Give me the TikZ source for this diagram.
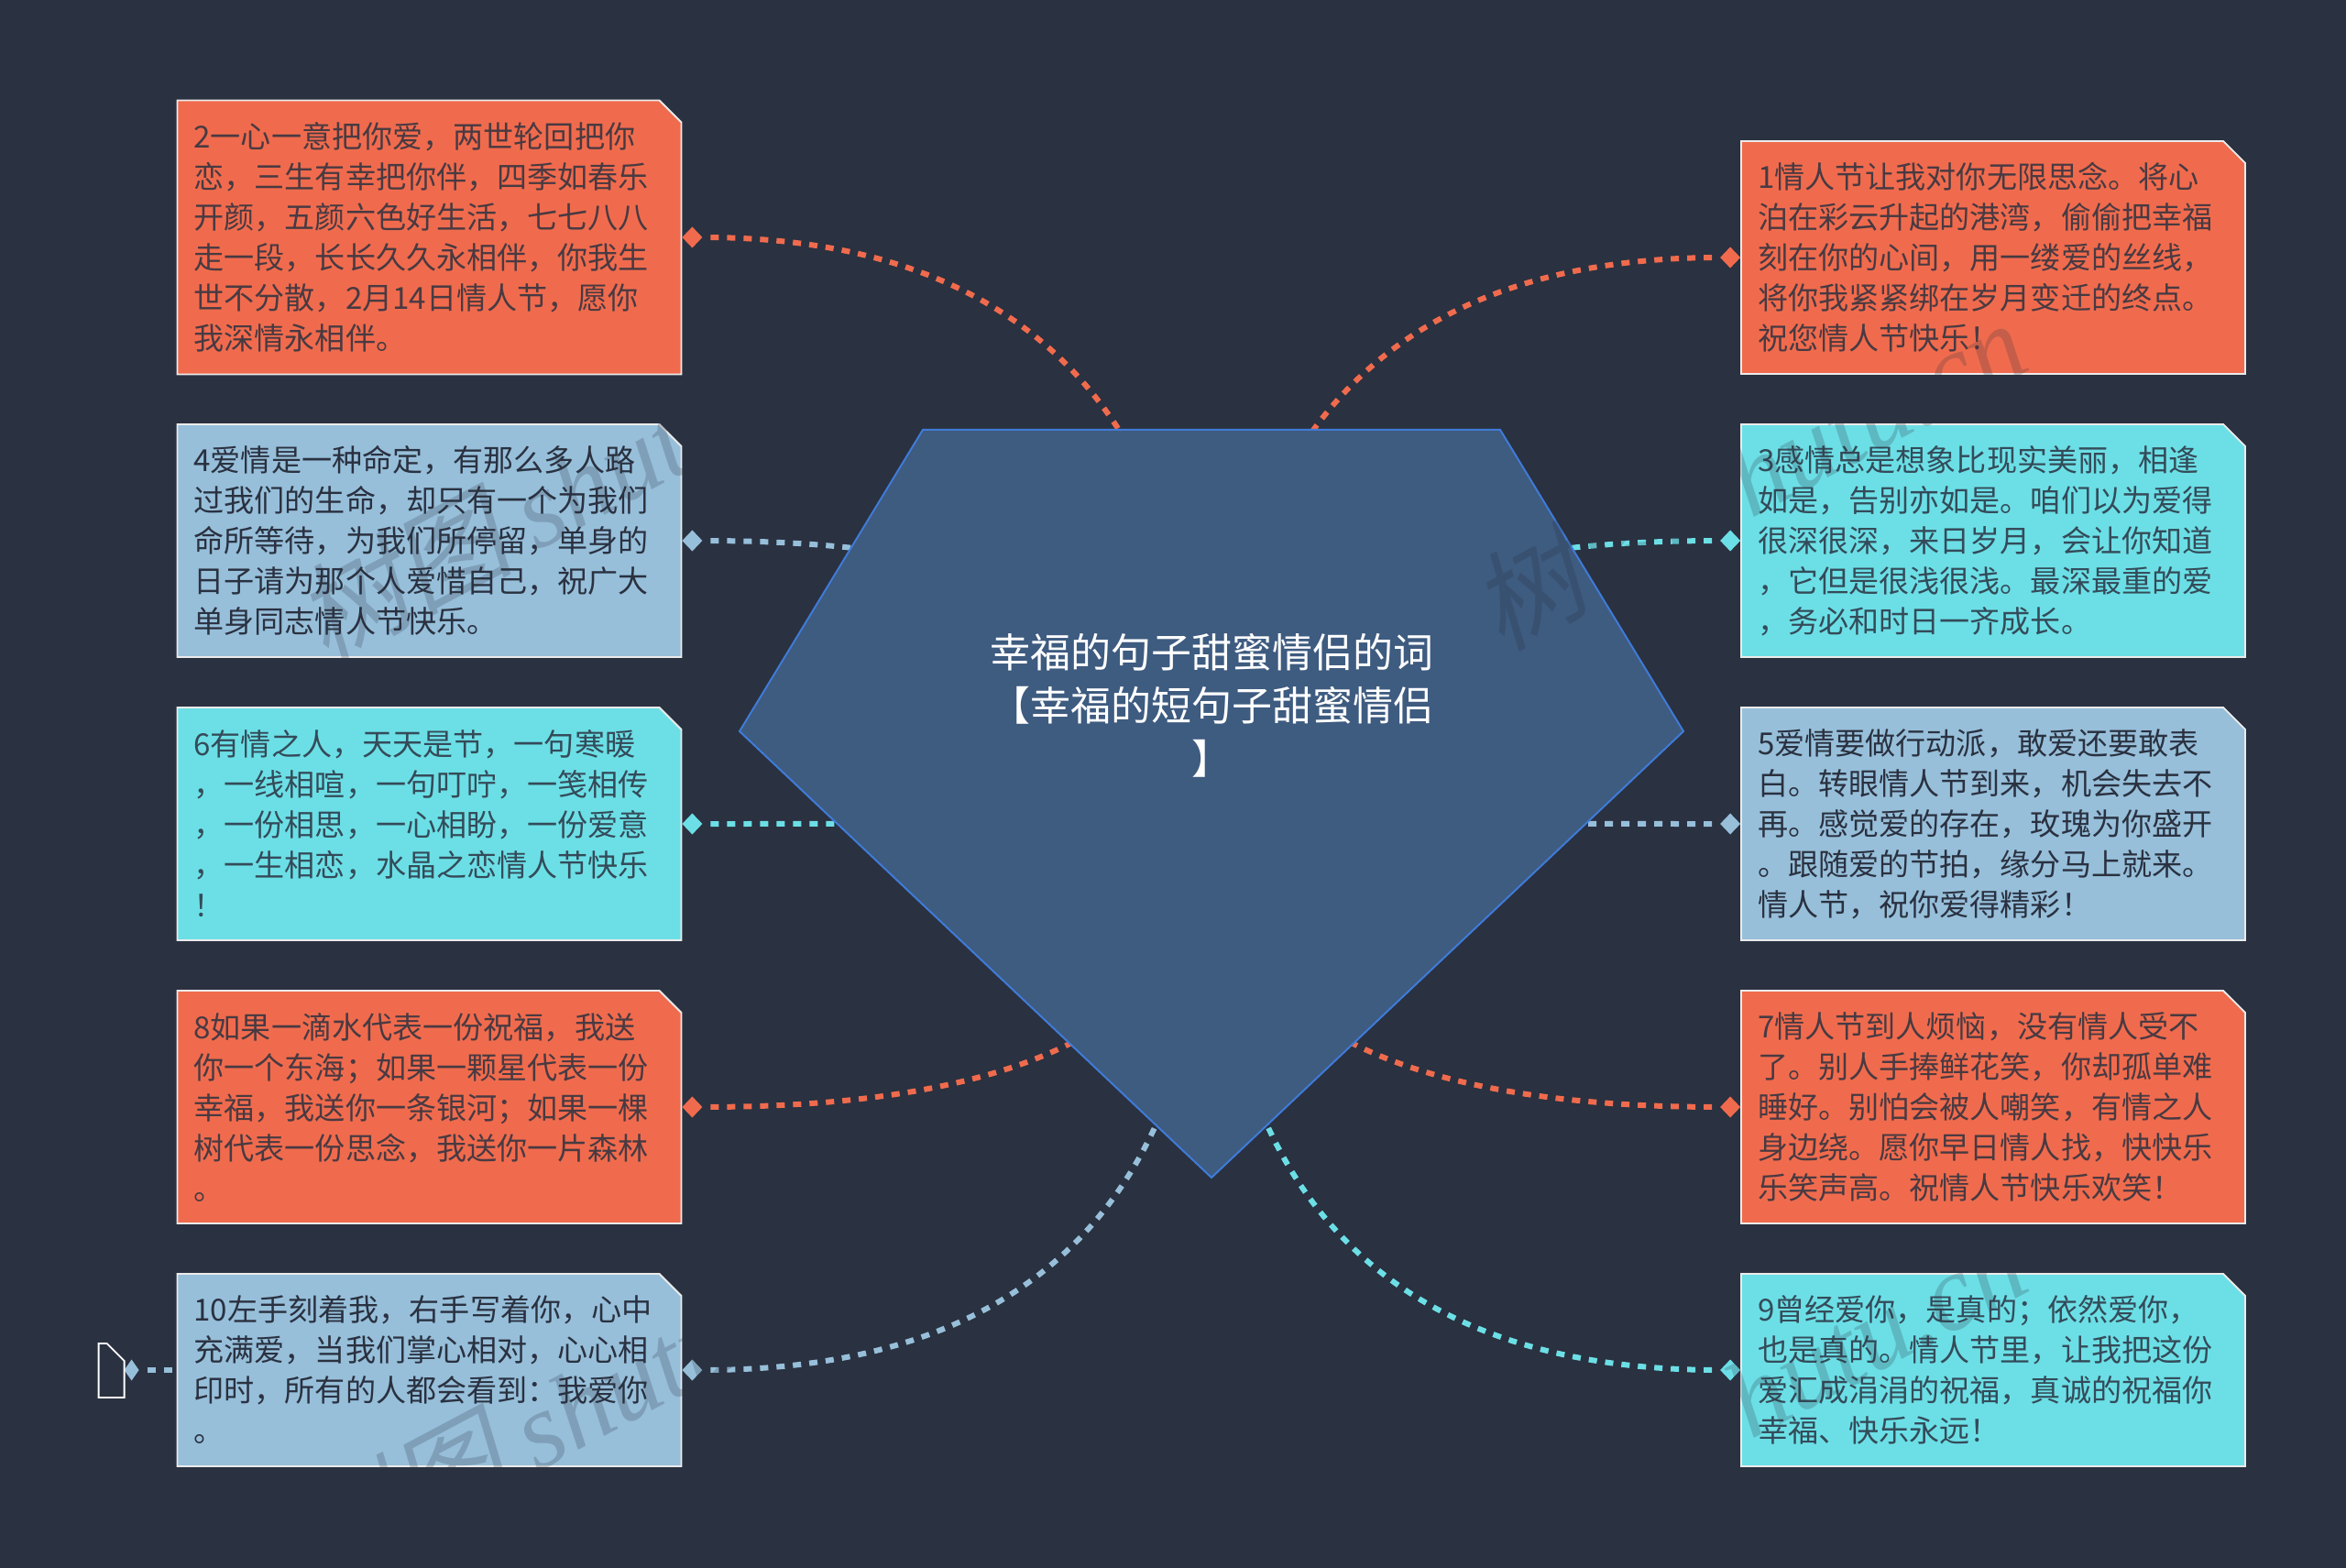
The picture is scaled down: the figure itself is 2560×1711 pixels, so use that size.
\documentclass[tikz,border=0pt]{standalone}
\usepackage{fontspec}
\setmainfont{Noto Sans CJK SC}
\newfontfamily\markcjk[FakeSlant=0.2]{Noto Sans CJK SC}
\newfontfamily\marklatin{Liberation Serif}[ItalicFont=* Italic]
\usetikzlibrary{calc,positioning,shapes.geometric,shapes.misc}
\definecolor{bgdark}{HTML}{2A3140}
\definecolor{orcard}{HTML}{F06B4D}
\definecolor{blcard}{HTML}{97BFDA}
\definecolor{cycard}{HTML}{6CDFE6}
\definecolor{rootfill}{HTML}{3E5B80}
\definecolor{rootline}{HTML}{3F7BD8}
\tikzset{
	card/.style = {chamfered rectangle, chamfered rectangle corners=north east, chamfered rectangle xsep=6pt, chamfered rectangle ysep=6pt, draw=white!92!black, line width=0.9pt, inner xsep=3pt, inner ysep=0pt, minimum width=274.5pt, text width=257pt, align=left, font=\fontsize{16.55}{22}\selectfont},
	orbox/.style = {card, fill=orcard, text=orcard!15!bgdark},
	blbox/.style = {card, fill=blcard, text=bgdark},
	cybox/.style = {card, fill=cycard, text=cycard!15!bgdark},
	tip/.style = {diamond, minimum width=11pt, minimum height=11.5pt, inner sep=0pt, outer sep=0pt},
	hublink/.style = {line width=3pt, dash pattern=on 4.5pt off 4.5pt, dash phase=4.5pt, to path={.. controls ($(\tikztostart)!.667!(\tikztostart -| \tikztotarget)$) and ($(\tikztotarget)!.667!(\tikztostart -| \tikztotarget)$) .. (\tikztotarget)}},
	wmark/.style = {rotate=28, opacity=0.22, text=bgdark, font=\fontsize{59}{59}\selectfont},
}
\begin{document}
\begin{tikzpicture}[x=0.5pt, y=-0.5pt]
		\useasboundingbox (0,0) rectangle (2560,1711);
		\fill [bgdark] (0,0) rectangle (2560,1711);
		\coordinate (hub) at (1322,898);
		\node [orbox, minimum height=149.5pt] (b2) at (468.5,259) {2一心一意把你爱，两世轮回把你\\恋，三生有幸把你伴，四季如春乐\\开颜，五颜六色好生活，七七八八\\走一段，长长久久永相伴，你我生\\世不分散，2月14日情人节，愿你\\我深情永相伴。};
		\node [blbox, minimum height=127pt] (b4) at (468.5,590) {4爱情是一种命定，有那么多人路\\过我们的生命，却只有一个为我们\\命所等待，为我们所停留，单身的\\日子请为那个人爱惜自己，祝广大\\单身同志情人节快乐。};
		\node [cybox, minimum height=127pt] (b6) at (468.5,899) {6有情之人，天天是节，一句寒暖\\，一线相喧，一句叮咛，一笺相传\\，一份相思，一心相盼，一份爱意\\，一生相恋，水晶之恋情人节快乐\\！};
		\node [orbox, minimum height=127pt] (b8) at (468.5,1208) {8如果一滴水代表一份祝福，我送\\你一个东海；如果一颗星代表一份\\幸福，我送你一条银河；如果一棵\\树代表一份思念，我送你一片森林\\。};
		\node [blbox, minimum height=105pt] (b10) at (468.5,1495) {10左手刻着我，右手写着你，心中\\充满爱，当我们掌心相对，心心相\\印时，所有的人都会看到：我爱你\\。};
		\node [orbox, minimum height=127pt] (b1) at (2175,281) {1情人节让我对你无限思念。将心\\泊在彩云升起的港湾，偷偷把幸福\\刻在你的心间，用一缕爱的丝线，\\将你我紧紧绑在岁月变迁的终点。\\祝您情人节快乐！};
		\node [cybox, minimum height=127pt] (b3) at (2175,590) {3感情总是想象比现实美丽，相逢\\如是，告别亦如是。咱们以为爱得\\很深很深，来日岁月，会让你知道\\，它但是很浅很浅。最深最重的爱\\，务必和时日一齐成长。};
		\node [blbox, minimum height=127pt] (b5) at (2175,899) {5爱情要做行动派，敢爱还要敢表\\白。转眼情人节到来，机会失去不\\再。感觉爱的存在，玫瑰为你盛开\\。跟随爱的节拍，缘分马上就来。\\情人节，祝你爱得精彩！};
		\node [orbox, minimum height=127pt] (b7) at (2175,1208) {7情人节到人烦恼，没有情人受不\\了。别人手捧鲜花笑，你却孤单难\\睡好。别怕会被人嘲笑，有情之人\\身边绕。愿你早日情人找，快快乐\\乐笑声高。祝情人节快乐欢笑！};
		\node [cybox, minimum height=105pt] (b9) at (2175,1495) {9曾经爱你，是真的；依然爱你，\\也是真的。情人节里，让我把这份\\爱汇成涓涓的祝福，真诚的祝福你\\幸福、快乐永远！};
		\node [tip, fill=orcard, right=0pt of b2] (d2) {};
		\node [tip, fill=blcard, right=0pt of b4] (d4) {};
		\node [tip, fill=cycard, right=0pt of b6] (d6) {};
		\node [tip, fill=orcard, right=0pt of b8] (d8) {};
		\node [tip, fill=blcard, right=0pt of b10] (d10) {};
		\node [tip, fill=orcard, left=0pt of b1] (d1) {};
		\node [tip, fill=cycard, left=0pt of b3] (d3) {};
		\node [tip, fill=blcard, left=0pt of b5] (d5) {};
		\node [tip, fill=orcard, left=0pt of b7] (d7) {};
		\node [tip, fill=cycard, left=0pt of b9] (d9) {};
		\node [tip, fill=blcard, minimum width=8pt, minimum height=11.5pt, left=20.5pt of b10] (d0) {};
		\coordinate (n0) at (d0.west);
		\draw [white, line width=0.9pt, fill=bgdark] (n0) ++(-19,-29) -- ++(19,19) -- ++(0,40) -- ++(-28,0) -- ++(0,-59) -- cycle;
		\draw [hublink, orcard] (d2.east) to (hub);
		\draw [hublink, blcard] (d4.east) to (hub);
		\draw [hublink, cycard] (d6.east) to (hub);
		\draw [hublink, orcard] (d8.east) to (hub);
		\draw [hublink, blcard] (d10.east) to (hub);
		\draw [hublink, orcard] (d1.west) to (hub);
		\draw [hublink, cycard] (d3.west) to (hub);
		\draw [hublink, blcard] (d5.west) to (hub);
		\draw [hublink, orcard] (d7.west) to (hub);
		\draw [hublink, cycard] (d9.west) to (hub);
		\draw [line width=3pt, dash pattern=on 4.5pt off 4.5pt, dash phase=4.5pt, blcard] (d0.east) -- (b10.west);
		\draw [rootline, fill=rootfill, line width=1pt] (1007,469) -- (1637,469) -- (1837,798) -- (1322,1285) -- (807,798) -- cycle;
		\node [text=white, align=center, font=\fontsize{22}{29}\selectfont] (root) at (1322,770) {幸福的句子甜蜜情侣的词\\【幸福的短句子甜蜜情侣\\】};
		\node [wmark] (wm1) at (625,530) {\markcjk 树图 \marklatin\itshape shutu.cn};
		\node [wmark] (wm2) at (1908,517) {\markcjk 树图 \marklatin\itshape shutu.cn};
		\node [wmark] (wm3) at (625,1535) {\markcjk 树图 \marklatin\itshape shutu.cn};
		\node [wmark] (wm4) at (1908,1522) {\markcjk 树图 \marklatin\itshape shutu.cn};
\end{tikzpicture}
\end{document}
